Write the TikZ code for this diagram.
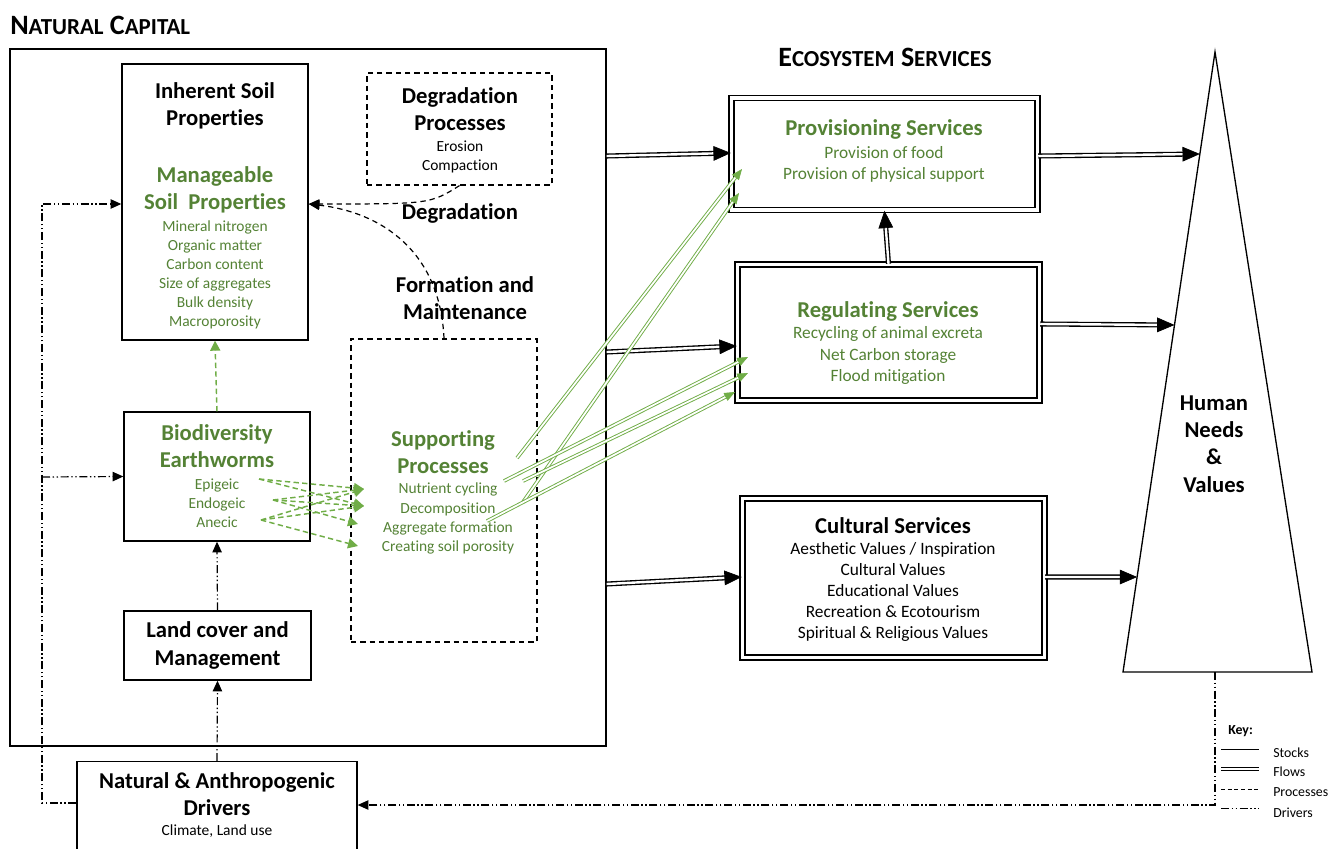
\documentclass[tikz,border=0pt]{standalone}
\usepackage{fontspec}
\setmainfont{Carlito}[Ligatures=NoCommon]
\usepackage{xcolor}
\usetikzlibrary{arrows.meta, calc, decorations.markings}

\definecolor{soilgreen}{RGB}{84,130,53}
\definecolor{arrowgreen}{RGB}{112,173,71}

% small capitals for the two section headings
\newcommand\capsmall[1]{{\fontsize{17.2}{20}\selectfont #1}}

\tikzset{
  stock/.style={draw, line width=1pt, inner sep=0pt},
  service/.style={draw, double, line width=1.1pt, double distance=2.4pt, inner sep=0pt},
  procbox/.style={draw, line width=0.9pt, dash pattern=on 4pt off 3pt, inner sep=0pt},
  heading/.style={font=\fontsize{17}{20.4}\selectfont\bfseries, align=center},
  sublist/.style={font=\fontsize{13}{15.8}\selectfont, align=center},
  itemlist/.style={font=\fontsize{11.6}{14.3}\selectfont, align=center},
  keytext/.style={font=\fontsize{10.4}{12}\selectfont, anchor=west, inner sep=0pt},
  flow/.style={double, line width=1pt, double distance=1.8pt, shorten >=8pt,
    postaction={decorate, decoration={markings,
      mark=at position 1 with {\arrow[line width=0.5pt]{Triangle[length=13pt,width=11pt]}}}}},
  greenflow/.style={color=arrowgreen, double, line width=0.7pt, double distance=1.3pt, shorten >=5pt,
    postaction={decorate, decoration={markings,
      mark=at position 1 with {\arrow[line width=0.4pt]{Triangle[length=8pt,width=6.5pt]}}}}},
  process/.style={line width=0.9pt, dash pattern=on 4pt off 3pt, -{Triangle[length=8pt,width=7pt]}},
  gprocess/.style={arrowgreen, line width=1.1pt, dash pattern=on 4pt off 2.5pt, -{Triangle[length=7.5pt,width=7.5pt]}},
  driver/.style={line width=0.9pt, dash pattern=on 6pt off 2pt on 1pt off 2pt on 1pt off 2pt,
    -{Triangle[length=8pt,width=7pt]}},
}

\begin{document}
\begin{tikzpicture}[x=0.75pt, y=-0.75pt]
  \path[use as bounding box] (0,0) rectangle (1331,849);
  \clip (0,0) rectangle (1331,849);

  % section headings
  \node[anchor=west, inner sep=0pt, font=\fontsize{21}{24}\selectfont\bfseries] (ncTitle) at (10,25)
    {N\capsmall{ATURAL} C\capsmall{APITAL}};
  \node[inner sep=0pt, font=\fontsize{21}{24}\selectfont\bfseries] (esTitle) at (885,57)
    {E\capsmall{COSYSTEM} S\capsmall{ERVICES}};

  % natural capital and its stocks
  \node[stock, minimum width=447pt, minimum height=522.75pt] (natcap) at (308,397.5) {};

  \node[stock, minimum width=139.5pt, minimum height=207pt] (inh) at (215,202) {};
  \node[heading] (inhT) at (215,105.5) {Inherent Soil\\Properties};
  \node[heading, soilgreen] (manT) at (215,190) {Manageable\\Soil~~Properties};
  \node[itemlist, soilgreen] (manL) at (215,275) {Mineral nitrogen\\Organic matter\\Carbon content\\Size of aggregates\\Bulk density\\Macroporosity};

  \node[procbox, minimum width=138.75pt, minimum height=84pt] (degr) at (459.5,129) {};
  \node[heading] (degrT) at (460,109) {Degradation\\Processes};
  \node[itemlist] (degrL) at (460,156.5) {Erosion\\Compaction};

  \node[heading] (degLab) at (460,213) {Degradation};
  \node[heading] (formLab) at (465,298.5) {Formation and\\Maintenance};

  \node[procbox, minimum width=139.5pt, minimum height=227.25pt] (sup) at (444,490.5) {};
  \node[heading, soilgreen] (supT) at (443,452) {Supporting\\Processes};
  \node[itemlist, soilgreen] (supL) at (448,518.5) {Nutrient cycling\\Decomposition\\Aggregate formation\\Creating soil porosity};

  \node[stock, minimum width=139.5pt, minimum height=96.75pt] (bio) at (217,476.5) {};
  \node[heading, soilgreen] (bioT) at (217,446) {Biodiversity\\Earthworms};
  \node[itemlist, soilgreen] (bioL) at (217,503.5) {Epigeic\\Endogeic\\Anecic};

  \node[stock, heading, minimum width=140.25pt, minimum height=51.75pt] (land) at (217.5,645.5) {Land cover and\\Management};

  \node[stock, anchor=north, minimum width=210pt, minimum height=90pt] (drv) at (217,761) {};
  \node[heading] (drvT) at (217,794.5) {Natural \& Anthropogenic\\Drivers};
  \node[itemlist] (drvL) at (217,831) {Climate, Land use};

  % ecosystem services
  \node[service, minimum width=229.5pt, minimum height=84pt] (prov) at (884.5,154) {};
  \node[heading, soilgreen] (provT) at (884,129) {Provisioning Services};
  \node[sublist, soilgreen] (provL) at (884,164.5) {Provision of food\\Provision of physical support};

  \node[service, minimum width=226.5pt, minimum height=102pt] (reg) at (888.5,332.5) {};
  \node[heading, soilgreen] (regT) at (888,311) {Regulating Services};
  \node[sublist, soilgreen] (regL) at (888,355.5) {Recycling of animal excreta\\Net Carbon storage\\Flood mitigation};

  \node[service, minimum width=226.5pt, minimum height=119.25pt] (cult) at (893.5,578) {};
  \node[heading] (cultT) at (893,526) {Cultural Services};
  \node[sublist] (cultL) at (893,592) {Aesthetic Values / Inspiration\\Cultural Values\\Educational Values\\Recreation \& Ecotourism\\Spiritual \& Religious Values};

  % human needs triangle
  \coordinate (apex) at (1215,52);
  \coordinate (baseL) at (1123,672);
  \coordinate (baseR) at (1312,672);
  \draw[line width=1pt] (apex) -- (baseL) -- (baseR) -- cycle;
  \node[heading] (human) at (1214,444) {Human\\Needs\\\&\\Values};
  \coordinate (hProv) at ($(apex)!0.1645!(baseL)$);
  \coordinate (hReg) at ($(apex)!0.4403!(baseL)$);
  \coordinate (hCult) at ($(apex)!0.8468!(baseL)$);

  % flows
  \draw[flow] (natcap.east |- 0,156) -- (prov.west |- 0,153);
  \draw[flow] (natcap.east |- 0,352) -- (reg.west |- 0,346);
  \draw[flow] (natcap.east |- 0,584) -- (cult.west |- 0,577);
  \draw[flow] (prov.east |- 0,156) -- (hProv);
  \draw[flow] (reg.east |- 0,324) -- (hReg);
  \draw[flow] (cult.east |- 0,577) -- (hCult);
  \draw[flow] (reg.north) -- (prov.south);

  % supporting processes feeding the services
  \coordinate (sp1) at (517,458);
  \coordinate (sp2) at (523,502);
  \coordinate (sp3) at (504,481);
  \coordinate (sp4) at (523,481);
  \coordinate (sp5) at (487,521);
  \coordinate (pv1) at (742,169);
  \coordinate (pv2) at (739,193);
  \coordinate (rg1) at (748,357);
  \coordinate (rg2) at (748,373);
  \coordinate (rg3) at (735,392);
  \foreach \a/\b in {sp1/pv1, sp2/pv2, sp3/rg1, sp4/rg2, sp5/rg3}
    \draw[greenflow] (\a) -- (\b);

  % earthworm groups to processes
  \coordinate (epi) at (259,479);
  \coordinate (endo) at (273,500);
  \coordinate (ane) at (261,520);
  \coordinate (nut) at (364,489);
  \coordinate (dec) at (364,506);
  \coordinate (agg) at (358,524);
  \coordinate (por) at (358,546);
  \foreach \a/\b in {epi/nut, epi/dec, endo/nut, endo/dec, endo/agg, ane/nut, ane/dec, ane/por}
    \draw[gprocess] (\a) -- (\b);
  \draw[gprocess] (bio.north) -- (inh.south);

  % degradation and formation
  \draw[process] (degr.south) .. controls (430,204) .. (inh.east |- 0,204);
  \draw[process] (sup.north) .. controls (440,250) and (380,212) .. (inh.east |- 0,204);

  % drivers
  \draw[driver] (drv.west |- 0,803) -| (42,204) -- (inh.west |- 0,204);
  \draw[driver] (42,477) -- (bio.west);
  \draw[driver] (drv.north) -- (land.south);
  \draw[driver] (land.north) -- (bio.south);
  \draw[driver] (apex |- baseL) |- (drv.east |- 0,805);

  % key
  \node[anchor=west, inner sep=0pt, font=\fontsize{10.4}{12}\selectfont\bfseries] (key) at (1228,731) {Key:};
  \draw[line width=0.75pt] (1221,749) -- (1259,749);
  \draw[double, line width=0.7pt, double distance=1.3pt] (1221,769) -- (1259,769);
  \draw[line width=0.75pt, dash pattern=on 3pt off 2pt] (1221,789) -- (1259,789);
  \draw[line width=0.75pt, dash pattern=on 6pt off 2pt on 1pt off 2pt on 1pt off 2pt] (1221,808) -- (1259,808);
  \node[keytext] (kStock) at (1273,753) {Stocks};
  \node[keytext] (kFlow) at (1273,772) {Flows};
  \node[keytext] (kProc) at (1273,792) {Processes};
  \node[keytext] (kDrv) at (1273,813) {Drivers};
\end{tikzpicture}
\end{document}
